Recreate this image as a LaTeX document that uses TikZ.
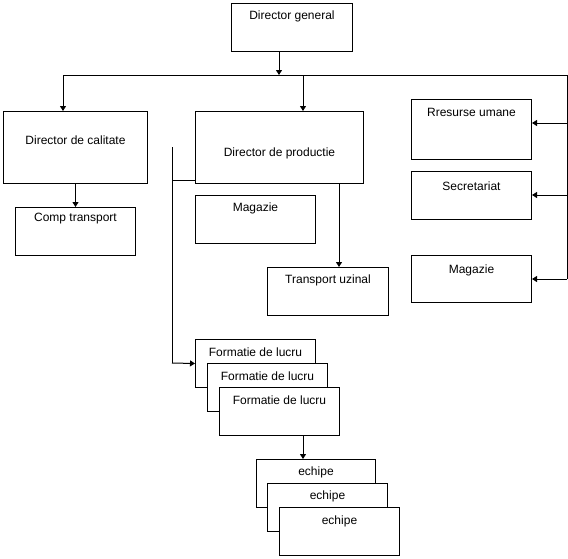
\documentclass[tikz,border=0pt]{standalone}
\usepackage{fontspec}
\setmainfont{Liberation Sans}
\usetikzlibrary{arrows.meta}
\begin{document}
\begin{tikzpicture}[x=1pt,y=-1pt,
  box/.style={draw, line width=1pt, fill=white, inner sep=0pt, anchor=north west,
    minimum width=120pt, minimum height=48pt},
  lbl/.style={anchor=center, inner sep=0pt, font=\fontsize{12}{14}\selectfont},
  conn/.style={line width=1pt},
  arr/.style={line width=1pt, -{Triangle[width=6pt,length=5pt]}}]
\useasboundingbox (0,0) rectangle (568,558);

% boxes
\node[box, minimum width=121pt, label={[lbl,yshift=-13pt]north:Director general}] (dg) at (231,3) {};
\node[box, minimum width=144pt, minimum height=72pt, label={[lbl,yshift=-29pt]north:Director de calitate}] (dc) at (3,111) {};
\node[box, minimum width=168pt, minimum height=72pt, label={[lbl,yshift=-42pt]north:Director de productie}] (dp) at (195,111) {};
\node[box, label={[lbl,yshift=-12pt]north:Comp transport}] (ct) at (15,207) {};
\node[box, label={[lbl,yshift=-13pt]north:Magazie}] (mm) at (195,195) {};
\node[box, minimum width=121pt, label={[lbl,yshift=-13pt]north:Transport uzinal}] (tu) at (267,267) {};
\node[box, minimum height=60pt, label={[lbl,yshift=-13pt]north:Rresurse umane}] (ru) at (411,99) {};
\node[box, label={[lbl,yshift=-15pt]north:Secretariat}] (se) at (411,171) {};
\node[box, minimum height=47pt, label={[lbl,yshift=-15pt]north:Magazie}] (mr) at (411,255) {};
\node[box, label={[lbl,yshift=-13pt]north:Formatie de lucru}] (f1) at (195,339) {};
\node[box, label={[lbl,yshift=-13pt]north:Formatie de lucru}] (f2) at (207,363) {};
\node[box, label={[lbl,yshift=-13pt]north:Formatie de lucru}] (f3) at (219,387) {};
\node[box, minimum width=119pt, label={[lbl,yshift=-13pt]north:echipe}] (e1) at (256,459) {};
\node[box, label={[lbl,yshift=-13pt]north:echipe}] (e2) at (267,483) {};
\node[box, label={[lbl,yshift=-14pt]north:echipe}] (e3) at (279,507) {};

% junction coordinates
\coordinate (jt) at (279,75);
\coordinate (jl) at (63,75);
\coordinate (jm) at (303,75);
\coordinate (jr) at (567,75);
\coordinate (r1) at (567,123);
\coordinate (r2) at (567,195);
\coordinate (r3) at (567,279);
\coordinate (dpo) at (339,183);
\coordinate (vb) at (172,147);
\coordinate (vh) at (172,180);
\coordinate (vc) at (172,363);
\coordinate (fo) at (303,435);

% connectors
\draw[arr] (dg.south -| jt) -- (jt);
\draw[conn] (jl) -- (jr) -- (r3);
\draw[arr] (jl) -- (dc.north -| jl);
\draw[arr] (jm) -- (dp.north -| jm);
\draw[arr] (r1) -- (ru.east |- r1);
\draw[arr] (r2) -- (se.east |- r2);
\draw[arr] (r3) -- (mr.east |- r3);
\draw[arr] (dc.south) -- (ct.north);
\draw[arr] (dpo) -- (tu.north -| dpo);
\draw[conn] (vb) -- (vc);
\draw[conn] (vh) -- (dp.west |- vh);
\draw[arr] (vc) -- (f1.west);
\draw[arr] (fo) -- (e1.north -| fo);
\end{tikzpicture}
\end{document}
